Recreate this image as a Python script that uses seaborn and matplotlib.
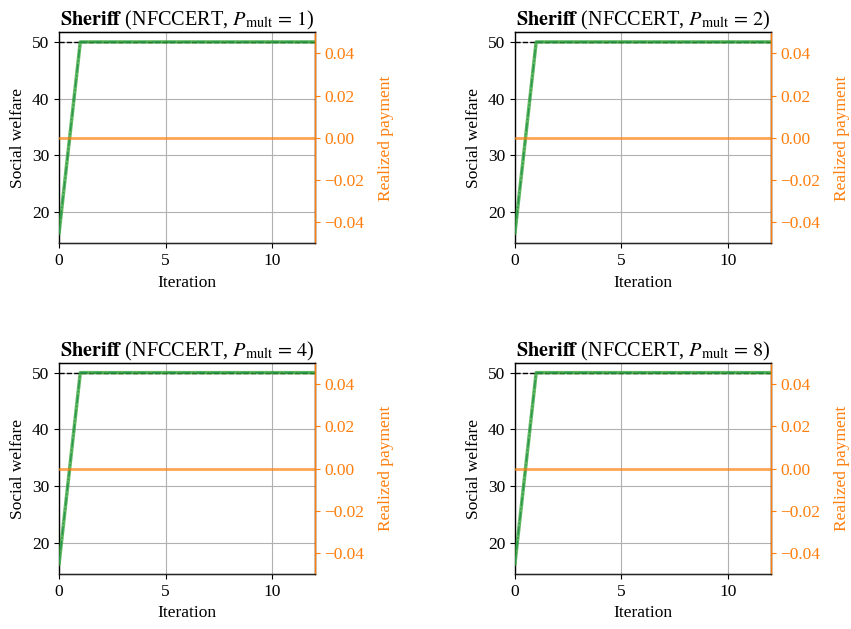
import numpy as np
import pandas as pd
import matplotlib
matplotlib.use("Agg")
import matplotlib.pyplot as plt
import matplotlib.ticker as mticker
import seaborn as sns

sns.set_style("ticks")
plt.rcParams["font.family"] = ["Liberation Serif", "DejaVu Serif"]
plt.rcParams["mathtext.fontset"] = "stix"
plt.rcParams["font.size"] = 12.5
plt.rcParams["text.color"] = "black"
plt.rcParams["axes.labelcolor"] = "black"
plt.rcParams["xtick.color"] = "black"
plt.rcParams["ytick.color"] = "black"

# Per-run traces (identical across the four payment multipliers)
iterations = list(range(13))
p_mult_values = [1, 2, 4, 8]
social_welfare = [16.2, 50, 50, 50, 50, 50, 50, 50, 50, 50, 50, 50, 50]
best_welfare = [16.2, 50, 50, 50, 50, 50, 50, 50, 50, 50, 50, 50, 50]
optimal_welfare = 50
realized_payment = [0.0] * 13

ORANGE = "#ff7f0e"


def minus_fmt(v, _):
    return ("%.2f" % v).replace("-", "\u2212")


fig = plt.figure(figsize=(8.51, 6.29), dpi=100)
lefts = [0.0693, 0.605]
bottoms = [0.6132, 0.0874]
w, h = 0.3007, 0.3354

for k, pm in enumerate(p_mult_values):
    r, c = divmod(k, 2)
    ax = fig.add_axes([lefts[c], bottoms[r], w, h])
    df = pd.DataFrame({
        "Iteration": iterations,
        "welfare": social_welfare,
        "best": best_welfare,
        "payment": realized_payment,
    })
    ax.axhline(optimal_welfare, color="black", ls="--", lw=1.0, zorder=2)
    sns.lineplot(data=df, x="Iteration", y="welfare", ax=ax, color="#1f77b4",
                 ls="-.", lw=1.0, zorder=3)
    sns.lineplot(data=df, x="Iteration", y="best", ax=ax, color="#2ca02c",
                 lw=2.5, alpha=0.75, zorder=4)
    ax.set_xlim(0, 12)
    ax.set_xticks([0, 5, 10])
    ax.set_yticks([20, 30, 40, 50])
    ax.grid(True, color="#b0b0b0", lw=0.8)
    ax.set_axisbelow(True)
    ax.set_xlabel("Iteration")
    ax.set_ylabel("Social welfare", labelpad=4)
    ax.set_title(r"$\mathbf{Sheriff}$ (NFCCERT, $P_{\rm mult}\,=\,%d$)" % pm,
                 fontsize=14.6, pad=4, color="black")
    for s in ax.spines.values():
        s.set_color("black")
        s.set_linewidth(1.0)

    ax2 = ax.twinx()
    sns.lineplot(data=df, x="Iteration", y="payment", ax=ax2, color=ORANGE,
                 lw=2.0, alpha=0.7)
    ax2.set_ylim(-0.05, 0.05)
    ax2.set_yticks([-0.04, -0.02, 0.0, 0.02, 0.04])
    ax2.yaxis.set_major_formatter(mticker.FuncFormatter(minus_fmt))
    ax2.set_ylabel("Realized payment", color=ORANGE, labelpad=10)
    ax2.tick_params(axis="y", colors=ORANGE)
    ax2.spines["right"].set_color(ORANGE)
    ax2.spines["right"].set_linewidth(1.0)
    ax2.spines["left"].set_visible(False)
    ax2.spines["top"].set_color("black")
    ax2.set_xlim(0, 12)

fig.savefig("out.png", dpi=100)
